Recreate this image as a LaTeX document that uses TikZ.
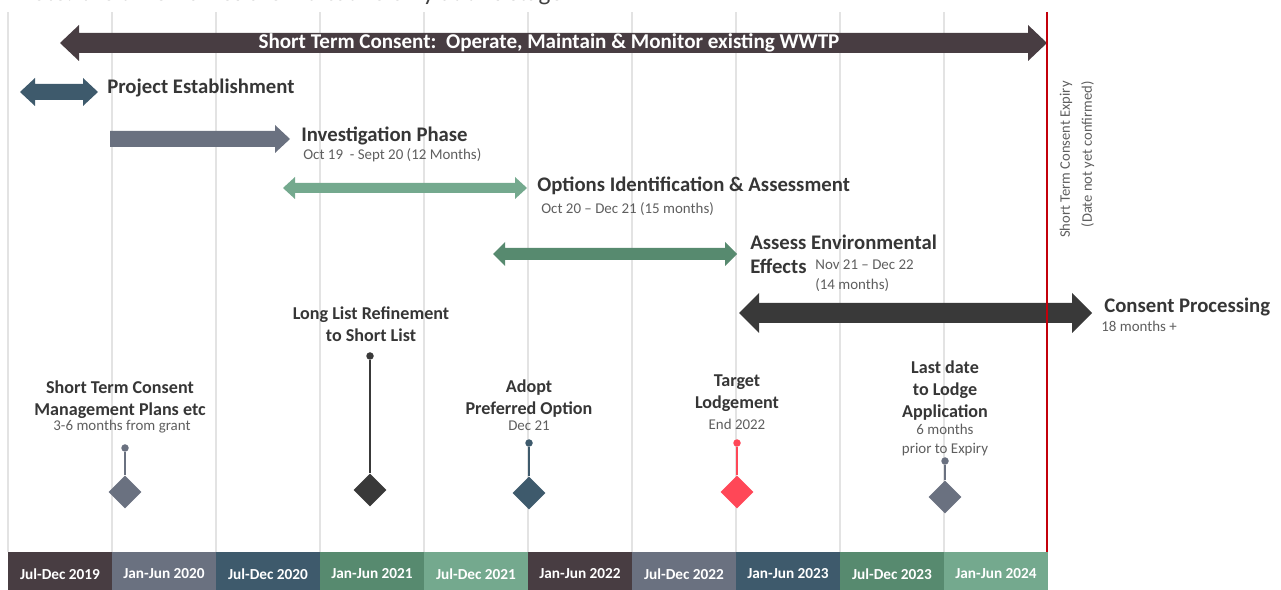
\documentclass[tikz,border=0pt]{standalone}
\usepackage{fontspec}
\setmainfont{Carlito}
\usetikzlibrary{shapes.geometric,positioning}

\definecolor{plum}{HTML}{483D42}
\definecolor{slate}{HTML}{6A7180}
\definecolor{teal}{HTML}{3E5A6C}
\definecolor{green}{HTML}{578A6F}
\definecolor{mint}{HTML}{74A98E}
\definecolor{coal}{HTML}{393939}
\definecolor{alert}{HTML}{FF4757}
\definecolor{expiry}{HTML}{C3000B}
\definecolor{ink}{HTML}{363636}
\definecolor{dim}{HTML}{5E5E5E}

% fat block arrows: colour, left x, right x, mid y, shaft half, head half, head length
\newcommand{\twoway}[7]{\fill[#1] (#2,#4) -- ({#2+#7},{#4-#6}) -- ({#2+#7},{#4-#5})
  -- ({#3-#7},{#4-#5}) -- ({#3-#7},{#4-#6}) -- (#3,#4) -- ({#3-#7},{#4+#6})
  -- ({#3-#7},{#4+#5}) -- ({#2+#7},{#4+#5}) -- ({#2+#7},{#4+#6}) -- cycle;}
\newcommand{\oneway}[7]{\fill[#1] (#2,{#4-#5}) -- ({#3-#7},{#4-#5}) -- ({#3-#7},{#4-#6})
  -- (#3,#4) -- ({#3-#7},{#4+#6}) -- ({#3-#7},{#4+#5}) -- (#2,{#4+#5}) -- cycle;}

\begin{document}
\begin{tikzpicture}[x=0.02cm,y=-0.02cm,
    grid/.style={draw=black!11,line width=0.8pt},
    title/.style={font=\bfseries\fontsize{11.8}{14}\selectfont,text=ink,anchor=base west,inner sep=0pt},
    note/.style={font=\fontsize{8.5}{10.5}\selectfont,text=dim,anchor=base west,inner sep=0pt},
    mile/.style={font=\bfseries\fontsize{10.3}{12.4}\selectfont,text=ink,align=center,inner sep=0pt},
    cell/.style={minimum width=2.08cm,minimum height=0.88cm,inner sep=0pt,text=white,
      font=\bfseries\fontsize{8.7}{10}\selectfont},
    dot/.style={circle,inner sep=0pt,minimum size=0.15cm},
    gem/.style={diamond,inner sep=0pt,minimum size=0.66cm}]
  \useasboundingbox (0,0) rectangle (1281,590);

  % heading, only its lower edge is on the page
  \node[font=\fontsize{14.3}{16}\selectfont,text=black!75,anchor=base west,inner sep=0pt]
    (heading) at (16,0.5) {Note: the time frames are indicative only at this stage};

  % half-year columns
  \foreach \x in {8,112,...,944}
    \draw[grid] (\x,12) -- (\x,552);
  \foreach \lab/\col [count=\i] in {Jul-Dec 2019/plum, Jan-Jun 2020/slate, Jul-Dec 2020/teal,
      Jan-Jun 2021/green, Jul-Dec 2021/mint, Jan-Jun 2022/plum, Jul-Dec 2022/slate,
      Jan-Jun 2023/teal, Jul-Dec 2023/green, Jan-Jun 2024/mint}
    \node[cell,fill=\col] (cell\i) at ({104*\i-44},574) {\lab};

  % phases
  \twoway{plum}{60}{1047}{43}{10}{18}{19}
  \node[font=\bfseries\fontsize{12}{14}\selectfont,text=white,inner sep=0pt] (stc) at (549,43)
    {Short Term Consent:\ \ Operate, Maintain \& Monitor existing WWTP};

  \twoway{teal}{20}{98}{92}{8}{14}{15}
  \node[title] (estab) at (107,94) {Project Establishment};

  \oneway{slate}{110}{290}{139}{8}{14}{15}
  \node[title] (invest) at (301,142) {Investigation Phase};
  \node[note] (invest-dates) at (303,160) {Oct 19\ \ - Sept 20 (12 Months)};

  \twoway{mint}{283}{527}{188}{5}{11}{12}
  \node[title] (options) at (537,192) {Options Identification \& Assessment};
  \node[note] (options-dates) at (541,214) {Oct 20 – Dec 21 (15 months)};

  \twoway{green}{493}{737}{254}{6}{12}{12}
  \node[title] (aee) at (750,250) {Assess Environmental};
  \node[title] (aee2) at (750,274) {Effects};
  \node[note] (aee-dates) at (815,270) {Nov 21 – Dec 22};
  \node[note] (aee-months) at (815,290) {(14 months)};

  \twoway{coal}{739}{1092}{313}{10}{20}{20}
  \node[title] (consent) at (1104,313) {Consent Processing};
  \node[note] (consent-months) at (1101,332) {18 months +};

  % consent expiry
  \draw[expiry,line width=1.4pt] (1047,12) -- (1047,552);
  \node[rotate=90,anchor=east,align=right,inner sep=0pt,
    font=\fontsize{8.3}{12.5}\selectfont,text=dim] (expiry) at (1077,81)
    {Short Term Consent Expiry\\(Date not yet confirmed)};

  % milestones
  \foreach \x/\ytop/\ygem/\col/\nm in {125/448/492/slate/plans, 370/356/490/coal/shortlist,
      529/443/493/teal/adopt, 737/443/492/alert/lodge, 945/461/497/slate/lastdate} {
    \node[dot,fill=\col] (\nm-dot) at (\x,\ytop) {};
    \node[gem,fill=\col] (\nm-gem) at (\x,\ygem) {};
    \draw[\col,line width=1.2pt] (\nm-dot) -- (\nm-gem);
  }
  \node[mile] (plans) at (120,400) {Short Term Consent\\Management Plans etc};
  \node[note,anchor=base] at (122,431) {3-6 months from grant};
  \node[mile] (shortlist) at (371,324.5) {Long List Refinement\\to Short List};
  \node[mile] (adopt) at (529,398.5) {Adopt\\Preferred Option};
  \node[note,anchor=base] at (529,431) {Dec 21};
  \node[mile] (lodge) at (737,393.5) {Target\\Lodgement};
  \node[note,anchor=base] at (737,430) {End 2022};
  \node[mile] (lastdate) at (945,390.5) {Last date\\to Lodge\\Application};
  \node[note,anchor=base] at (945,435) {6 months};
  \node[note,anchor=base] at (945,454) {prior to Expiry};
\end{tikzpicture}
\end{document}
